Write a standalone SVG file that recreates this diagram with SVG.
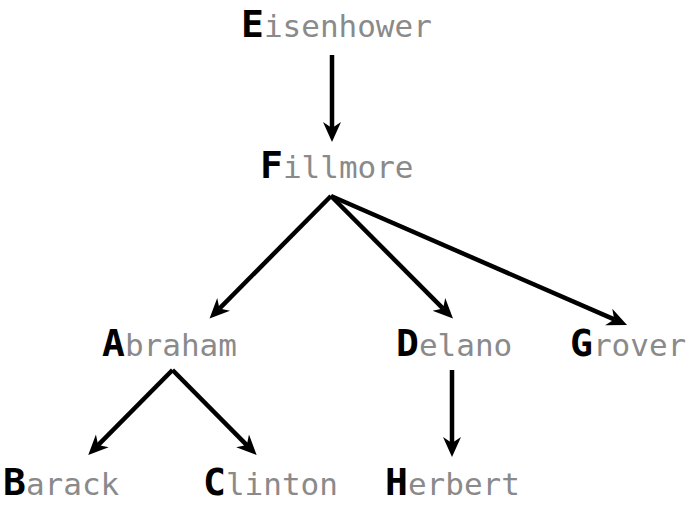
<svg xmlns="http://www.w3.org/2000/svg" width="690" height="510" viewBox="0 0 690 510">
<style>
.lbl{font-family:"DejaVu Sans Mono","Liberation Mono",monospace;font-size:31px;fill:#8a8a8a}
.ini{font-weight:bold;font-size:38px;fill:#000000}
.edge{stroke:#000;stroke-width:4.5;fill:none;marker-end:url(#ah)}
</style>
<defs>
<marker id="ah" markerUnits="userSpaceOnUse" markerWidth="22" markerHeight="20" viewBox="0 -10 22 20" refX="6" refY="0" orient="auto">
<path d="M20,0 L0,-9 L6,0 L0,9 Z" fill="#000"/>
</marker>
</defs>
<rect width="690" height="510" fill="#fff"/>
<g id="connectors">
<line class="edge" x1="332" y1="55" x2="332" y2="128"/>
<line class="edge" x1="331" y1="196" x2="219.4" y2="308.6"/>
<line class="edge" x1="331" y1="196" x2="443.1" y2="308.6"/>
<line class="edge" x1="331" y1="196" x2="614.2" y2="319.4"/>
<line class="edge" x1="172.5" y1="370" x2="98.1" y2="445.1"/>
<line class="edge" x1="172.5" y1="370" x2="246.8" y2="445.1"/>
<line class="edge" x1="452" y1="370" x2="452" y2="443"/>
</g>
<g id="node-E"><text class="lbl" x="241" y="37"><tspan class="ini">E</tspan>isenhower</text></g>
<g id="node-F"><text class="lbl" x="260" y="178"><tspan class="ini">F</tspan>illmore</text></g>
<g id="node-A"><text class="lbl" x="102" y="356"><tspan class="ini">A</tspan>braham</text></g>
<g id="node-D"><text class="lbl" x="396" y="356"><tspan class="ini">D</tspan>elano</text></g>
<g id="node-G"><text class="lbl" x="570" y="356"><tspan class="ini">G</tspan>rover</text></g>
<g id="node-B"><text class="lbl" x="3" y="495"><tspan class="ini">B</tspan>arack</text></g>
<g id="node-C"><text class="lbl" x="203" y="495"><tspan class="ini">C</tspan>linton</text></g>
<g id="node-H"><text class="lbl" x="385" y="495"><tspan class="ini">H</tspan>erbert</text></g>
</svg>
